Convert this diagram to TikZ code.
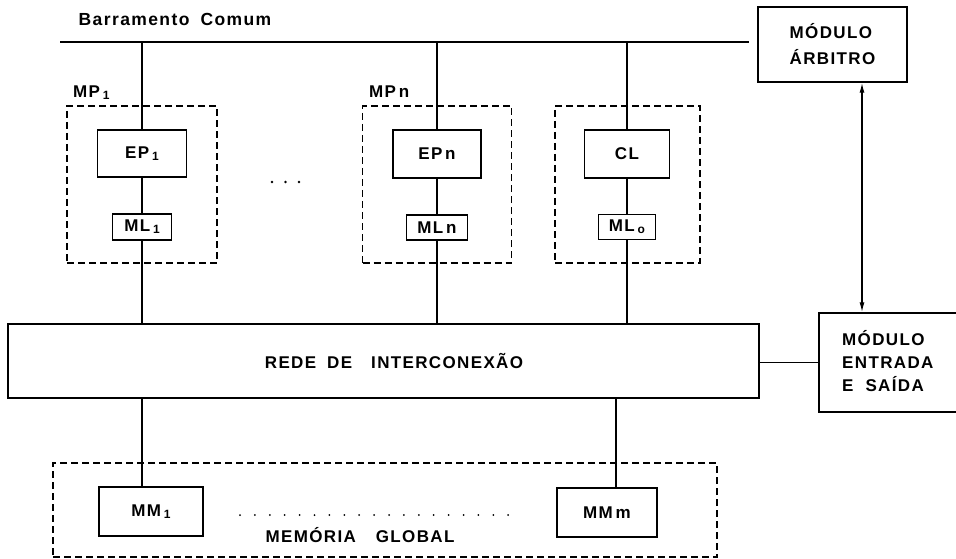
\documentclass[tikz,border=0pt]{standalone}
\usepackage{fontspec}
\setmainfont{Liberation Sans}[LetterSpace=8]
\usetikzlibrary{arrows.meta,calc}
% small lowered index digit
\newcommand{\idx}[1]{\raisebox{-2pt}{\fontsize{12}{12}\selectfont #1}}
\begin{document}
\begin{tikzpicture}[x=1pt,y=-1pt,
  txt/.style={font=\fontsize{17}{19}\selectfont\bfseries, inner sep=0pt},
  blk/.style={draw, line width=1.5pt, txt},
  grp/.style={draw, line width=1.3pt, dash pattern=on 7pt off 4pt, inner sep=0pt},
  conn/.style={line width=1.3pt},
  ah/.tip={Latex[length=10pt,width=5pt]}]
\useasboundingbox (0,0) rectangle (956,559);
\clip (0,0) rectangle (956,559);

% common bus
\coordinate (busL) at (60,42);
\coordinate (busR) at (749,42);
\draw[line width=2.6pt] (busL) -- (busR);
\node[txt, font=\fontsize{17.5}{19}\selectfont\bfseries] (busname) at (175,19) {Barramento\hspace{11pt}Comum};

% processor module 1
\node[grp, minimum width=150pt, minimum height=157pt] (mp1) at (142,184.5) {};
\node[txt, anchor=west] (mp1name) at (73,93) {MP\,\idx{1}};
\node[blk, minimum width=89pt, minimum height=47pt] (ep1) at (142,153.5) {EP\,\idx{1}};
\node[blk, minimum width=59pt, minimum height=26pt] (ml1) at (142,227) {ML\,\idx{1}};

% ellipsis between modules
\foreach \px in {272,285.5,299}
  \fill (\px,182) circle (1.3pt);

% processor module n
\node[grp, minimum width=149pt, minimum height=157pt] (mpn) at (437,184.5) {};
\node[txt, anchor=west] (mpnname) at (369,92) {MP\,n};
\node[blk, minimum width=88pt, minimum height=48pt] (epn) at (437,154) {EP\,n};
\node[blk, minimum width=61pt, minimum height=25pt] (mln) at (437,227.5) {ML\,n};

% local controller module
\node[grp, minimum width=145pt, minimum height=157pt] (clm) at (627.5,184.5) {};
\node[blk, minimum width=85pt, minimum height=48pt] (cl) at (627,154) {CL};
\node[blk, minimum width=57pt, minimum height=25pt] (mlo) at (627,227) {ML\,\idx{o}};

% interconnection network
\node[blk, minimum width=751pt, minimum height=74pt] (rede) at (383.5,361) {};
\node[txt] (redename) at (394,361) {REDE\hspace{11pt}DE\hspace{19pt}INTERCONEXÃO};

% arbiter module
\node[blk, minimum width=149pt, minimum height=75pt, align=left] (arb) at (832.5,44.5)
  {MÓDULO\\[7pt]ÁRBITRO};

% input/output module
\node[blk, minimum width=156pt, minimum height=99pt] (es) at (897,362.5) {};
\node[txt, anchor=west, align=left, font=\fontsize{17}{23}\selectfont\bfseries] (estxt) at (842,361)
  {MÓDULO\\ENTRADA\\E\hspace{12pt}SAÍDA};

% global memory
\node[grp, minimum width=664pt, minimum height=94pt] (mg) at (385,510) {};
\node[blk, minimum width=104pt, minimum height=49pt] (mm1) at (151,511.5) {MM\,\idx{1}};
\node[blk, minimum width=100pt, minimum height=49pt] (mmm) at (607,512.5) {MM\,m};
\foreach \i in {0,...,18}
  \fill (240+\i*14.9,515) circle (1pt);
\node[txt] (mgname) at (360,535) {MEMÓRIA\hspace{20pt}GLOBAL};

% connections
\draw[conn] (ep1.north |- busL) -- (ep1.north);
\draw[conn] (ep1.south) -- (ml1.north);
\draw[conn] (ml1.south) -- (ml1.south |- rede.north);
\draw[conn] (epn.north |- busL) -- (epn.north);
\draw[conn] (epn.south) -- (mln.north);
\draw[conn] (mln.south) -- (mln.south |- rede.north);
\draw[conn] (cl.north |- busL) -- (cl.north);
\draw[conn] (cl.south) -- (mlo.north);
\draw[conn] (mlo.south) -- (mlo.south |- rede.north);
\draw[conn] (rede.south -| ml1.south) -- (mm1.north -| ml1.south);
\draw[conn] ([xshift=9pt]mmm.north |- rede.south) -- ([xshift=9pt]mmm.north);
\draw[conn] (rede.east |- es.west) -- (es.west);
\draw[conn, ah-ah] ([xshift=29.5pt]arb.south) -- ([xshift=29.5pt]arb.south |- es.north);
\end{tikzpicture}
\end{document}
